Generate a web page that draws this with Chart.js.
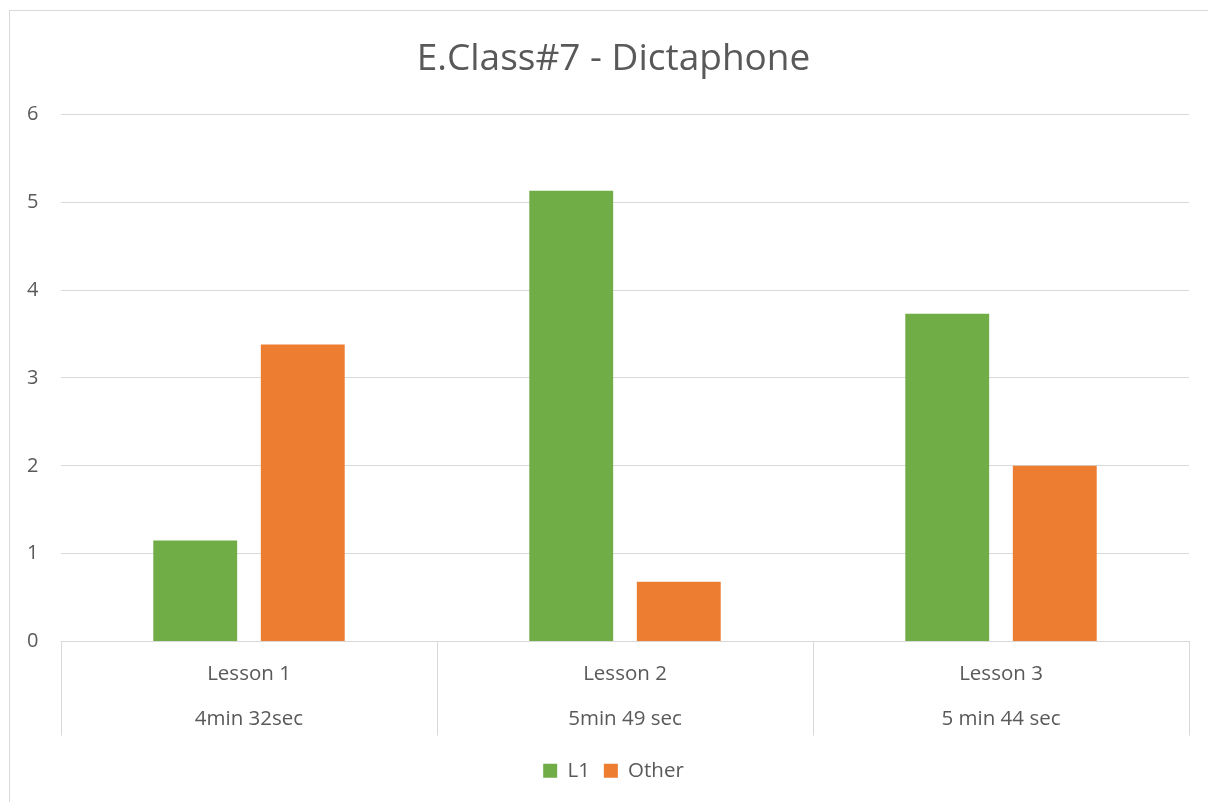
<!DOCTYPE html>
<html>
<head>
<meta charset="utf-8">
<script src="https://cdn.jsdelivr.net/npm/chart.js@4"></script>
<style>
  html, body { margin: 0; padding: 0; background: #fff; overflow: hidden; }
  .frame {
    position: absolute;
    left: 9px;
    top: 10px;
    width: 1208px;
    height: 800px;
    border: 1px solid #d9d9d9;
    background: #fff;
  }
  canvas { display: block; }
</style>
</head>
<body>
<div class="frame">
  <canvas id="chart" width="1207" height="800"></canvas>
</div>
<script>
const lessons = ['Lesson 1', 'Lesson 2', 'Lesson 3']
const durations = ['4min 32sec', '5min 49 sec', '5 min 44 sec']
const l1Values = [1.15, 5.13, 3.73]
const otherValues = [3.38, 0.68, 2.0]
const yTicks = [0, 1, 2, 3, 4, 5, 6]

const grey = '#d9d9d9'
const textColor = '#595959'
const fontFamily = '"Open Sans", "Noto Sans", sans-serif'

const labels = lessons.map((lesson, i) => [lesson, durations[i]])

new Chart(document.getElementById('chart'), {
  type: 'bar',
  data: {
    labels: labels,
    datasets: [
      {
        label: 'L1',
        data: l1Values,
        backgroundColor: '#70ad47',
        borderWidth: 0,
        categoryPercentage: 0.572,
        barPercentage: 0.78,
      },
      {
        label: 'Other',
        data: otherValues,
        backgroundColor: '#ed7d31',
        borderWidth: 0,
        categoryPercentage: 0.572,
        barPercentage: 0.78,
      },
    ],
  },
  options: {
    responsive: false,
    animation: false,
    layout: {
      // equal side padding keeps the title and legend centred like the original
      padding: { left: 28, right: 28, top: 0, bottom: 20 },
    },
    plugins: {
      title: {
        display: true,
        text: 'E.Class#7 - Dictaphone',
        color: textColor,
        font: { family: fontFamily, size: 37, weight: 'normal' },
        padding: { top: 26, bottom: 33 },
      },
      legend: {
        position: 'bottom',
        labels: {
          color: textColor,
          font: { family: fontFamily, size: 20.5 },
          boxWidth: 14,
          boxHeight: 14,
          padding: 14,
        },
      },
      tooltip: { enabled: false },
    },
    scales: {
      x: {
        grid: {
          drawOnChartArea: false,
          drawTicks: true,
          tickLength: 94,
          tickColor: grey,
          color: grey,
        },
        border: { display: true, color: grey },
        ticks: {
          color: textColor,
          font: { family: fontFamily, size: 20.5, lineHeight: 45 / 20.5 },
          padding: -83.5,
          maxRotation: 0,
        },
        afterFit: (scale) => {
          scale.height = 105
        },
      },
      y: {
        min: 0,
        max: 6,
        afterBuildTicks: (scale) => {
          scale.ticks = yTicks.map((v) => ({ value: v }))
        },
        grid: { color: grey, drawTicks: false },
        border: { display: false },
        ticks: {
          color: textColor,
          font: { family: fontFamily, size: 20 },
          // mirrored labels are not clipped to the narrow axis box
          mirror: true,
          padding: -34,
        },
        afterFit: (scale) => {
          scale.width = 23
        },
      },
    },
  },
})
</script>
</body>
</html>
